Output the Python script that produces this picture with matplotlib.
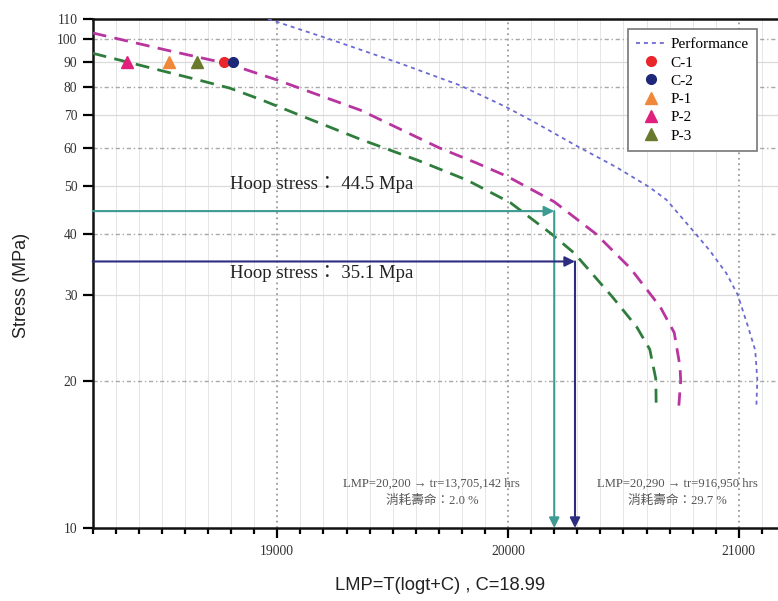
import matplotlib
matplotlib.use("Agg")
import matplotlib.pyplot as plt
from matplotlib.ticker import MultipleLocator, FixedLocator, FixedFormatter, NullLocator

# ---- data -------------------------------------------------------------
# Larson-Miller curves (LMP, stress MPa)
upper_lmp = [18200, 18520, 18790, 19000, 19360, 19700, 19864, 20000, 20200,
             20380, 20530, 20660, 20720, 20745, 20748, 20740]
upper_stress = [103, 95, 89, 82.5, 71.6, 60, 55.8, 52.3, 46.5,
                40, 34, 28.3, 25.1, 21.4, 20.0, 17.8]

lower_lmp = [18200, 18664, 18795, 18924, 19098, 19357, 19606, 19822, 20010,
             20187, 20287, 20452, 20557, 20614, 20640, 20642]
lower_stress = [93.6, 82.4, 79.4, 75.4, 69.9, 62.5, 56.6, 51.5, 46.3,
                40, 36.5, 29.7, 25.8, 23.2, 20.2, 17.6]

perf_lmp = [18960, 19228, 19531, 19791, 19993, 20123, 20297, 20470, 20613,
            20687, 20799, 20873, 20946, 20995, 21040, 21071, 21080, 21076]
perf_stress = [110, 100, 89.3, 80.5, 72.6, 67.3, 60.5, 54.7, 49.8,
               46.9, 40.7, 37.0, 33.2, 30.0, 25.8, 23.1, 20.1, 17.8]

# test specimens
sample_names = ["C-1", "C-2", "P-1", "P-2", "P-3"]
sample_lmp = [18770, 18810, 18530, 18350, 18650]
sample_stress = [90, 90, 90, 90, 90]
sample_markers = ["o", "o", "^", "^", "^"]
sample_colors = ["#e8262c", "#1e2878", "#f0883a", "#e0207c", "#6a7a2c"]

# hoop-stress read-offs
hoop_stress = [44.5, 35.1]
hoop_lmp = [20200, 20290]
hoop_colors = ["#3d9b93", "#2c2c80"]
hoop_labels = ["Hoop stress\uff1a 44.5 Mpa", "Hoop stress\uff1a 35.1 Mpa"]
life_notes = [["LMP=20,200 \u2192 tr=13,705,142 hrs", "\u6d88\u8017\u58fd\u547d\uff1a2.0 %"],
              ["LMP=20,290 \u2192 tr=916,950 hrs", "\u6d88\u8017\u58fd\u547d\uff1a29.7 %"]]

y_ticks = [10, 20, 30, 40, 50, 60, 70, 80, 90, 100, 110]
y_ticklabels = [str(v) for v in y_ticks]
x_ticks = [19000, 20000, 21000]
x_ticklabels = ["19000", "20000", "21000"]

# ---- figure -----------------------------------------------------------
W, H = 778, 601
fig = plt.figure(figsize=(W / 100, H / 100), dpi=100)
ax_l, ax_r, ax_t, ax_b = 92.7, 785.0, 19.0, 528.0
ax = fig.add_axes([ax_l / W, 1 - ax_b / H, (ax_r - ax_l) / W, (ax_b - ax_t) / H])

serif = ["Liberation Serif", "Noto Sans CJK TC", "DejaVu Sans"]

ax.set_yscale("log")
ax.set_xlim(18200, 21200)
ax.set_ylim(10, 110)

# grid: light vertical minor lines, dotted majors, alternating horizontals
for v in range(18300, 21200, 100):
    if v % 1000:
        ax.axvline(v, color="#e6e6e6", lw=0.7, zorder=0)
for v in x_ticks:
    ax.axvline(v, color="#9a9a9a", lw=1.3, ls=(0, (1, 2)), zorder=0)
for v in [20, 40, 60, 80, 100]:
    ax.axhline(v, color="#a8a8a8", lw=1.0, ls=(0, (3, 2, 1, 2)), zorder=0)
for v in [30, 50, 70, 90]:
    ax.axhline(v, color="#dadada", lw=0.9, zorder=0)

# curves
ax.plot(upper_lmp, upper_stress, color="#b8349e", lw=2.0, ls=(0, (5, 3)),
        label="_nolegend_", zorder=3)
ax.plot(lower_lmp, lower_stress, color="#2f7d3c", lw=2.0, ls=(0, (5, 3)),
        label="_nolegend_", zorder=3)
ax.plot(perf_lmp, perf_stress, color="#6a6ad2", lw=1.3, ls=(0, (2.2, 2.2)),
        label="Performance", zorder=3)

for name, x, y, m, c in zip(sample_names, sample_lmp, sample_stress,
                            sample_markers, sample_colors):
    ax.plot([x], [y], ls="none", marker=m, color=c,
            markersize=7 if m == "o" else 9, label=name, zorder=5)

# hoop stress arrows
for s, x, c in zip(hoop_stress, hoop_lmp, hoop_colors):
    ax.annotate("", xy=(x, s), xytext=(18200, s),
                arrowprops=dict(arrowstyle="-|>", color=c, lw=1.5,
                                mutation_scale=15, shrinkA=0, shrinkB=0),
                zorder=4)
    ax.annotate("", xy=(x, 10), xytext=(x, s),
                arrowprops=dict(arrowstyle="-|>", color=c, lw=1.5,
                                mutation_scale=15, shrinkA=0, shrinkB=0),
                zorder=4)

for lab, yf in zip(hoop_labels, [0.674, 0.500]):
    ax.text(0.198, yf, lab, transform=ax.transAxes, ha="left", va="center",
            fontsize=13.5, family=serif, color="#222222")

for (l1, l2), xf in zip(life_notes, [0.490, 0.845]):
    ax.text(xf, 0.086, l1, transform=ax.transAxes, ha="center", va="center",
            fontsize=9.1, family=serif, color="#555555")
    ax.text(xf, 0.054, l2, transform=ax.transAxes, ha="center", va="center",
            fontsize=9.1, family=serif, color="#555555")

# axes styling
for side in ["left", "bottom", "top"]:
    ax.spines[side].set_linewidth(1.8)
    ax.spines[side].set_color("#111111")
ax.spines["right"].set_visible(False)

ax.yaxis.set_major_locator(FixedLocator(y_ticks))
ax.yaxis.set_major_formatter(FixedFormatter(y_ticklabels))
ax.yaxis.set_minor_locator(NullLocator())
ax.xaxis.set_major_locator(FixedLocator(x_ticks))
ax.xaxis.set_major_formatter(FixedFormatter(x_ticklabels))
ax.xaxis.set_minor_locator(MultipleLocator(100))

ax.tick_params(axis="y", which="major", direction="out", length=7, width=1.6,
               pad=4, labelsize=9.8, labelcolor="#333333", right=False)
ax.tick_params(axis="x", which="major", direction="out", length=7, width=1.6,
               pad=5, labelsize=9.8, labelcolor="#333333", top=False)
ax.tick_params(axis="x", which="minor", direction="out", length=4.5, width=1.6,
               top=False)
for lbl in ax.get_xticklabels() + ax.get_yticklabels():
    lbl.set_family(serif)

fig.text(22 / W, 1 - 285 / H, "Stress (MPa)", rotation=90, ha="center",
         va="center", fontsize=13, family="Liberation Sans", color="#222222")
fig.text(440 / W, 1 - 585 / H, "LMP=T(logt+C) , C=18.99", ha="center",
         va="center", fontsize=13.2, family="Liberation Sans", color="#222222")

leg = ax.legend(loc="upper right", bbox_to_anchor=(0.9595, 0.980),
                borderaxespad=0, frameon=True, fancybox=False,
                edgecolor="#777777", framealpha=1, handlelength=1.9,
                handletextpad=0.35, labelspacing=0.3, borderpad=0.55,
                prop={"family": serif, "size": 11})
leg.get_frame().set_linewidth(1.2)

fig.savefig("out.png", dpi=100)
